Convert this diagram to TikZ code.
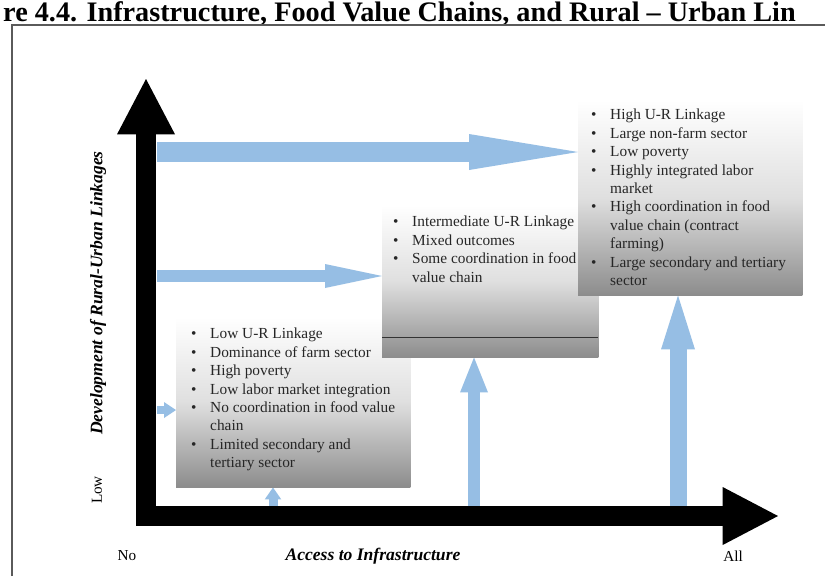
\documentclass[tikz,border=0pt]{standalone}
\usepackage{fontspec}
\setmainfont{Liberation Serif}
\usetikzlibrary{arrows.meta,backgrounds}
\definecolor{arrowblue}{RGB}{150,190,228}
\definecolor{framegray}{RGB}{90,90,90}
\newcommand{\bul}{\makebox[0.57cm][l]{\textbullet}}
\newcommand{\cont}{\hspace*{0.57cm}}

\begin{document}
\begin{tikzpicture}
	[
	  x=0.03cm, y=-0.03cm,
	  infobox/.style={anchor=north west, inner sep=0pt, top color=white, bottom color=gray!90, middle color=gray!25},
	  boxtext/.style={anchor=north west, inner sep=0pt, align=left, text=black!85, font=\fontsize{13.1}{15.7}\selectfont},
	  bluearrow/.style={draw=arrowblue, line width=#1},
	  axisarrow/.style={line width=0.6cm, -{Triangle[length=1.66cm,width=1.74cm,line width=0pt]}},
	  axislabel/.style={font=\fontsize{15}{18}\selectfont\bfseries\itshape},
	  ticklabel/.style={font=\fontsize{13}{15}\selectfont},
	]
	\useasboundingbox (0,0) rectangle (825,576);
	\node (title) [anchor=base west, inner sep=0pt, font=\fontsize{24.1}{26}\selectfont\bfseries] at (3,21) {re 4.4. Infrastructure, Food Value Chains, and Rural – Urban Lin};
	\draw [framegray, line width=1.2pt] (12,576) -- (12,25) -- (825,25);

	\node (lowbox) [infobox, minimum width=7.02cm, minimum height=5.1cm] at (176,317) {};
	\node (lowtext) [boxtext] at ([shift={(15,11)}]lowbox.north west)
	  {\bul Low U-R Linkage\\
	   \bul Dominance of farm sector\\
	   \bul High poverty\\
	   \bul Low labor market integration\\
	   \bul No coordination in food value\\
	   \cont chain\\
	   \bul Limited secondary and\\
	   \cont tertiary sector};
	\node (midbox) [infobox, minimum width=6.48cm, minimum height=4.56cm] at (382,205) {};
	\node (midtext) [boxtext] at ([shift={(11,11)}]midbox.north west)
	  {\bul Intermediate U-R Linkage\\
	   \bul Mixed outcomes\\
	   \bul Some coordination in food\\
	   \cont value chain};
	\draw [black!80, line width=1pt] ([shift={(0,-20)}]midbox.south west) -- ([shift={(0,-20)}]midbox.south east);
	\node (highbox) [infobox, minimum width=6.72cm, minimum height=5.85cm] at (578,100) {};
	\node (hightext) [boxtext] at ([shift={(13,9)}]highbox.north west)
	  {\bul High U-R Linkage\\
	   \bul Large non-farm sector\\
	   \bul Low poverty\\
	   \bul Highly integrated labor\\
	   \cont market\\
	   \bul High coordination in  food\\
	   \cont value chain  (contract\\
	   \cont farming)\\
	   \bul Large secondary and tertiary\\
	   \cont sector};

	\coordinate (topstart) at (157,152);
	\coordinate (midstart) at (157,276);
	\coordinate (lowstart) at (157,410);
	\coordinate (lowfoot) at (273,507);
	\coordinate (midfoot) at (474,507);
	\coordinate (highfoot) at (678,507);
	\begin{scope}[on background layer]
	  \fill [white] (0,0) rectangle (825,576);
	  \draw [bluearrow=0.6cm, -{Triangle[length=3.27cm,width=1.08cm,line width=0pt]}] (topstart) -- (topstart -| highbox.west);
	  \draw [bluearrow=0.36cm, -{Triangle[length=1.71cm,width=0.72cm,line width=0pt]}] (midstart) -- (midstart -| midbox.west);
	  \draw [bluearrow=0.24cm, -{Triangle[length=0.36cm,width=0.48cm,line width=0pt]}] (lowstart) -- (lowstart -| lowbox.west);
	  \draw [bluearrow=0.27cm, -{Triangle[length=0.36cm,width=0.5cm,line width=0pt]}] (lowfoot) -- (lowfoot |- lowbox.south);
	  \draw [bluearrow=0.36cm, -{Triangle[length=1.05cm,width=0.84cm,line width=0pt]}] (midfoot) -- (midfoot |- midbox.south);
	  \draw [bluearrow=0.51cm, -{Triangle[length=1.62cm,width=1.02cm,line width=0pt]}] (highfoot) -- (highfoot |- highbox.south);
	\end{scope}

	\coordinate (ybase) at (146,525);
	\coordinate (ytip) at (146,79);
	\coordinate (xbase) at (136,516);
	\coordinate (xtip) at (778,516);
	\draw [axisarrow] (ybase) -- (ytip);
	\draw [axisarrow] (xbase) -- (xtip);

	\node (ylabel) [axislabel, rotate=90] at (98,293) {Development of Rural-Urban Linkages};
	\node (xlabel) [axislabel] at (373,556) {Access to Infrastructure};
	\node (low) [ticklabel, rotate=90] at (97,490) {Low};
	\node (no) [ticklabel] at (127,556) {No};
	\node (all) [ticklabel] at (733,556) {All};
\end{tikzpicture}
\end{document}
